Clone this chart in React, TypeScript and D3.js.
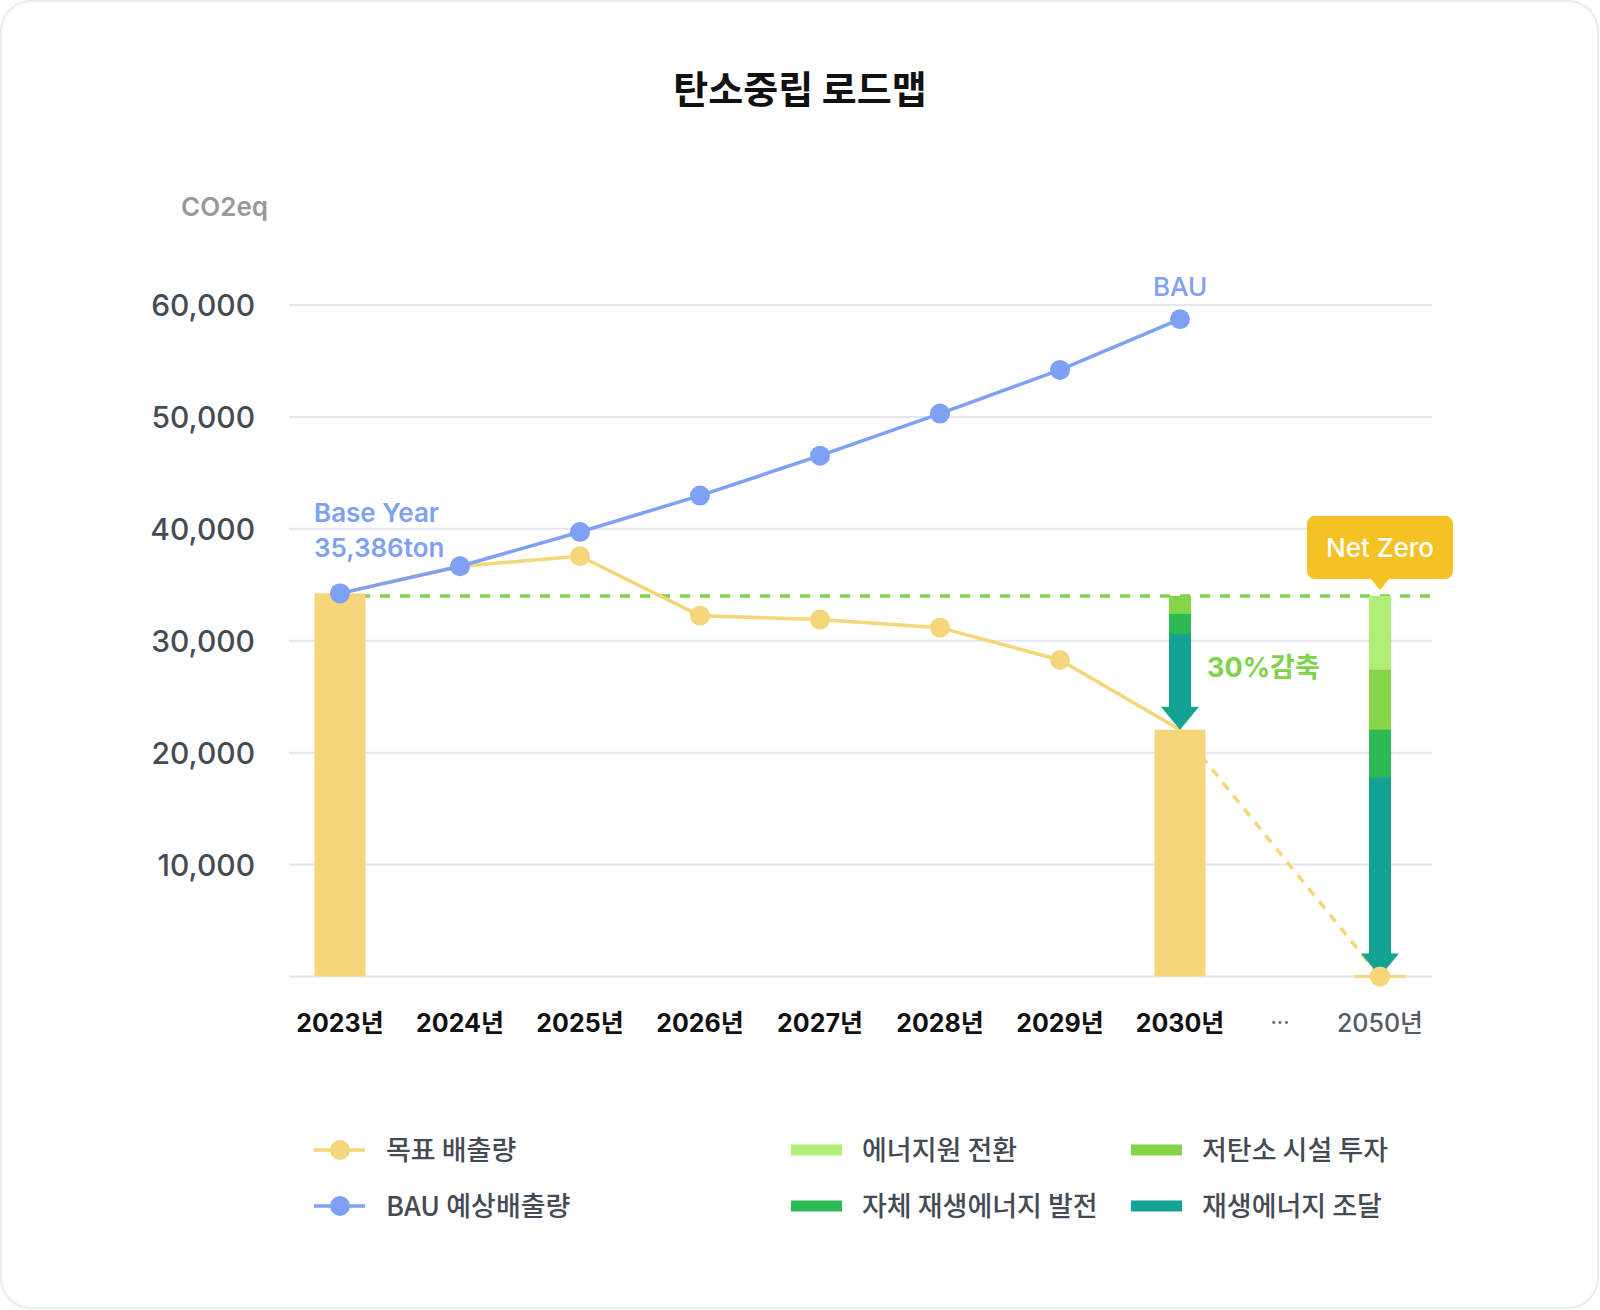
import * as d3 from "d3";

const years = [2023, 2024, 2025, 2026, 2027, 2028, 2029, 2030];
const bauValues = [34230, 36660, 39720, 42970, 46540, 50300, 54200, 58730];

const targetYears = [2023, 2024, 2025, 2026, 2027, 2028, 2029, 2030, 2050];
const targetValues = [34230, 36660, 37550, 32240, 31890, 31170, 28280, 22050, 0];

const barYears = [2023, 2030, 2050];
const barValues = [34230, 22050, 0];

const baseLevel = 34000;
const yTicks = [10000, 20000, 30000, 40000, 50000, 60000];
const xLabels = ["2023년", "2024년", "2025년", "2026년", "2027년", "2028년", "2029년", "2030년"];

const reductionKeys = ["에너지원 전환", "저탄소 시설 투자", "자체 재생에너지 발전", "재생에너지 조달"];
const reductionColors = ["#b0ee78", "#86d548", "#2dba55", "#14a392"];
const reduction2030 = [0, 1600, 1800, 8550];
const reduction2050 = [6600, 5350, 4250, 17800];

const W = 1600;
const H = 1310;
const FONT = "Inter, 'Noto Sans CJK KR', sans-serif";
const KFONT = "'Noto Sans CJK KR', Inter, sans-serif";

const YELLOW = "#f5d67b";
const BLUE = "#7ea0f5";
const GRID = "#e4e7f1";

export default function App() {
  const x = d3.scaleLinear().domain([2023, 2030, 2050]).range([340, 1180, 1380]);
  const y = d3.scaleLinear().domain([0, 60000]).range([976.5, 305]);
  const plotLeft = 289;
  const plotRight = 1432;
  const barW = 51;

  const bauLine = d3
    .line<number>()
    .x((_, i) => x(years[i]))
    .y((d) => y(d));

  const targetSolid = d3
    .line<number>()
    .x((_, i) => x(targetYears[i]))
    .y((d) => y(d))(targetValues.slice(0, 8));

  const targetDash = d3
    .line<number>()
    .x((_, i) => x(targetYears[i + 7]))
    .y((d) => y(d))(targetValues.slice(7));

  // stacked reduction arrow, drawn downward from the base level
  const arrow = (year: number, parts: number[]) => {
    const cx = x(year);
    const shaft = 11;
    const headW = 19;
    const headH = 23;
    let top = baseLevel;
    const out: JSX.Element[] = [];
    parts.forEach((v, i) => {
      if (v <= 0) return;
      const bottom = top - v;
      const y0 = y(top);
      const y1 = y(bottom);
      if (i === parts.length - 1) {
        out.push(
          <rect key={`s${i}`} x={cx - shaft} y={y0} width={shaft * 2} height={y1 - headH - y0 + 0.5} fill={reductionColors[i]} />
        );
        out.push(
          <polygon
            key={`h${i}`}
            points={`${cx - headW},${y1 - headH} ${cx + headW},${y1 - headH} ${cx},${y1}`}
            fill={reductionColors[i]}
          />
        );
      } else {
        out.push(<rect key={`s${i}`} x={cx - shaft} y={y0} width={shaft * 2} height={y1 - y0 + 0.5} fill={reductionColors[i]} />);
      }
      top = bottom;
    });
    return <g>{out}</g>;
  };

  const legendLeft = [
    { label: "목표 배출량", color: YELLOW },
    { label: "BAU 예상배출량", color: BLUE },
  ];
  const legendRows = [1150, 1206];
  const legendRects = [
    { i: 0, col: 0, row: 0 },
    { i: 1, col: 1, row: 0 },
    { i: 2, col: 0, row: 1 },
    { i: 3, col: 1, row: 1 },
  ];
  const rectCols = [791, 1131];

  const nz = x(2050);

  return (
    <div>
      <style>{`body{margin:0}`}</style>
      <svg width={W} height={H} style={{ display: "block" }}>
        <rect x={1} y={1} width={W - 3} height={H - 3} rx={30} fill="#fff" stroke="#e3ecf7" strokeWidth={2} />

        <text x={800} y={103} textAnchor="middle" fontFamily={KFONT} fontSize={38} fontWeight={700} fill="#111">
          탄소중립 로드맵
        </text>

        <text x={268} y={216} textAnchor="end" fontFamily={FONT} fontSize={26} fontWeight={600} fill="#999">
          CO2eq
        </text>

        {/* grid */}
        {[0, ...yTicks].map((t) => (
          <line key={t} x1={plotLeft} x2={plotRight} y1={y(t)} y2={y(t)} stroke={GRID} strokeWidth={2} />
        ))}
        {yTicks.map((t) => (
          <text
            key={t}
            x={255}
            y={y(t) + 11}
            textAnchor="end"
            fontFamily={FONT}
            fontSize={30}
            fontWeight={500}
            fill="#454b55"
          >
            {d3.format(",")(t)}
          </text>
        ))}

        {/* x labels */}
        {years.map((yr, i) => (
          <text key={yr} x={x(yr)} y={1032} textAnchor="middle" fontFamily={FONT} fontSize={25} fontWeight={700} fill="#111">
            {xLabels[i]}
          </text>
        ))}
        <text x={x(2040)} y={1030} textAnchor="middle" fontFamily={FONT} fontSize={22} fill="#666">
          ···
        </text>
        <text x={x(2050)} y={1032} textAnchor="middle" fontFamily={FONT} fontSize={25} fontWeight={500} fill="#555b66">
          2050년
        </text>

        {/* base level */}
        <line
          x1={x(2023)}
          x2={plotRight}
          y1={y(baseLevel)}
          y2={y(baseLevel)}
          stroke="#7ed348"
          strokeWidth={3.5}
          strokeDasharray="10,10"
        />

        {/* target extension */}
        <path d={targetDash ?? ""} fill="none" stroke={YELLOW} strokeWidth={3.5} strokeDasharray="9,8" />

        {/* bars */}
        {barYears.map((yr, i) => {
          const top = y(barValues[i]);
          const h = Math.max(3, y(0) - top);
          return <rect key={yr} x={x(yr) - barW / 2} y={barValues[i] > 0 ? top : y(0) - 1.5} width={barW} height={h} fill={YELLOW} />;
        })}

        {/* lines */}
        <path d={targetSolid ?? ""} fill="none" stroke={YELLOW} strokeWidth={3.5} />
        {targetValues.map((v, i) =>
          i === 7 ? null : <circle key={i} cx={x(targetYears[i])} cy={y(v)} r={10} fill={YELLOW} />
        )}
        <path d={bauLine(bauValues) ?? ""} fill="none" stroke={BLUE} strokeWidth={3.5} />
        {bauValues.map((v, i) => (
          <circle key={i} cx={x(years[i])} cy={y(v)} r={10} fill={BLUE} />
        ))}

        {/* arrows */}
        {arrow(2030, reduction2030)}
        {arrow(2050, reduction2050)}
        <circle cx={x(2050)} cy={y(0)} r={10} fill={YELLOW} />

        {/* annotations */}
        <text x={314} y={522} fontFamily={FONT} fontSize={26} fontWeight={600} fill={BLUE}>
          Base Year
        </text>
        <text x={314} y={557} fontFamily={FONT} fontSize={26} fontWeight={600} fill={BLUE}>
          35,386ton
        </text>
        <text x={x(2030)} y={296} textAnchor="middle" fontFamily={FONT} fontSize={26} fontWeight={500} fill={BLUE}>
          BAU
        </text>
        <text x={1207} y={677} fontFamily={FONT} fontSize={27} fontWeight={700} fill="#7ed348">
          30%감축
        </text>

        <g>
          <rect x={nz - 73} y={516} width={146} height={63} rx={8} fill="#f5c226" />
          <polygon points={`${nz - 10},578 ${nz + 10},578 ${nz},590`} fill="#f5c226" />
          <text x={nz} y={557} textAnchor="middle" fontFamily={FONT} fontSize={26} fontWeight={500} fill="#fff">
            Net Zero
          </text>
        </g>

        {/* legend */}
        {legendLeft.map((d, i) => (
          <g key={d.label}>
            <line x1={314} x2={365} y1={legendRows[i]} y2={legendRows[i]} stroke={d.color} strokeWidth={3.5} />
            <circle cx={340} cy={legendRows[i]} r={10} fill={d.color} />
            <text x={386} y={legendRows[i] + 10} fontFamily={KFONT} fontSize={27} fontWeight={500} fill="#454b55">
              {d.label}
            </text>
          </g>
        ))}
        {legendRects.map((d) => (
          <g key={d.i}>
            <rect x={rectCols[d.col]} y={legendRows[d.row] - 5.5} width={51} height={11} fill={reductionColors[d.i]} />
            <text
              x={rectCols[d.col] + 71}
              y={legendRows[d.row] + 10}
              fontFamily={KFONT}
              fontSize={27}
              fontWeight={500}
              fill="#454b55"
            >
              {reductionKeys[d.i]}
            </text>
          </g>
        ))}
      </svg>
    </div>
  );
}
